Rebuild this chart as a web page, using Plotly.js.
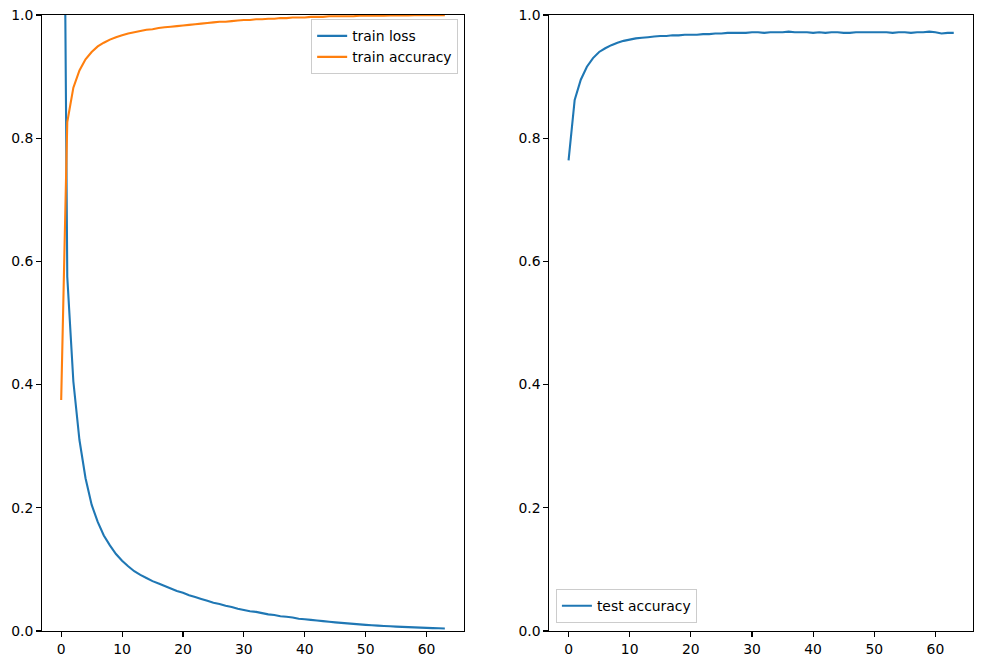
<!DOCTYPE html>
<html>
<head>
<meta charset="utf-8">
<script src="https://cdn.plot.ly/plotly-3.0.1.min.js"></script>
<style>html,body{margin:0;padding:0;background:#fff;}#chart{width:981px;height:664px;}</style>
</head>
<body>
<div id="chart"></div>
<script>
const epochs = Array.from({length: 64}, (_, i) => i);

const trainLoss = [1.9, 0.575, 0.405, 0.310, 0.248, 0.205, 0.177, 0.155, 0.139, 0.125,
  0.114, 0.105, 0.097, 0.091, 0.086, 0.081, 0.077, 0.073, 0.069, 0.065,
  0.062, 0.058, 0.055, 0.052, 0.049, 0.046, 0.044, 0.041, 0.039, 0.036,
  0.034, 0.032, 0.031, 0.029, 0.027, 0.026, 0.024, 0.023, 0.022, 0.020,
  0.019, 0.018, 0.017, 0.016, 0.015, 0.014, 0.0132, 0.0124, 0.0116, 0.0108,
  0.010, 0.0094, 0.0088, 0.0082, 0.0076, 0.0071, 0.0067, 0.0063, 0.0059, 0.0055,
  0.0051, 0.0047, 0.0044, 0.0041];

const trainAcc = [0.375, 0.826, 0.882, 0.910, 0.928, 0.940, 0.949, 0.955, 0.960, 0.964,
  0.967, 0.970, 0.972, 0.974, 0.976, 0.977, 0.979, 0.980, 0.981, 0.982,
  0.983, 0.984, 0.985, 0.986, 0.987, 0.988, 0.989, 0.989, 0.990, 0.991,
  0.992, 0.992, 0.993, 0.993, 0.994, 0.994, 0.995, 0.995, 0.996, 0.996,
  0.996, 0.997, 0.997, 0.997, 0.998, 0.998, 0.998, 0.998, 0.998, 0.999,
  0.999, 0.999, 0.999, 0.999, 0.9992, 0.9993, 0.9994, 0.9994, 0.9995, 0.9995,
  0.9996, 0.9996, 0.9997, 0.9997];

const testAcc = [0.764, 0.862, 0.895, 0.916, 0.930, 0.940, 0.946, 0.951, 0.955, 0.958,
  0.960, 0.962, 0.963, 0.964, 0.965, 0.966, 0.966, 0.967, 0.967, 0.968,
  0.968, 0.968, 0.969, 0.969, 0.970, 0.970, 0.971, 0.971, 0.971, 0.971,
  0.972, 0.972, 0.971, 0.972, 0.972, 0.972, 0.973, 0.972, 0.972, 0.972,
  0.971, 0.972, 0.971, 0.972, 0.972, 0.971, 0.971, 0.972, 0.972, 0.972,
  0.972, 0.972, 0.972, 0.971, 0.972, 0.972, 0.971, 0.972, 0.972, 0.973,
  0.972, 0.970, 0.971, 0.971];

const xTicks = [0, 10, 20, 30, 40, 50, 60];
const yTicks = [0.0, 0.2, 0.4, 0.6, 0.8, 1.0];

const FONT = {family: 'DejaVu Sans', size: 13.9, color: '#000'};
const BLUE = '#1f77b4', ORANGE = '#ff7f0e';

const traces = [
  {x: epochs, y: trainLoss, type: 'scatter', mode: 'lines', name: 'train loss',
   line: {color: BLUE, width: 2.1, simplify: false}, xaxis: 'x', yaxis: 'y', legend: 'legend'},
  {x: epochs, y: trainAcc, type: 'scatter', mode: 'lines', name: 'train accuracy',
   line: {color: ORANGE, width: 2.1, simplify: false}, xaxis: 'x', yaxis: 'y', legend: 'legend'},
  {x: epochs, y: testAcc, type: 'scatter', mode: 'lines', name: 'test accuracy',
   line: {color: BLUE, width: 2.1, simplify: false}, xaxis: 'x2', yaxis: 'y2', legend: 'legend2'}
];

function xax(domain, anchor) {
  return {domain: domain, anchor: anchor, range: [-3.15, 66.15], tickvals: xTicks,
    ticktext: xTicks.map(String), showgrid: false, zeroline: false, showline: true, mirror: true,
    linecolor: '#000', linewidth: 1.1, ticks: 'outside', ticklen: 4.9, tickwidth: 1.1,
    tickcolor: '#000', tickfont: FONT};
}
function yax(anchor) {
  return {anchor: anchor, range: [0, 1], tickvals: yTicks, ticktext: yTicks.map(v => v.toFixed(1)),
    showgrid: false, zeroline: false, showline: true, mirror: true,
    linecolor: '#000', linewidth: 1.1, ticks: 'outside', ticklen: 4.9, tickwidth: 1.1,
    tickcolor: '#000', tickfont: FONT};
}

const legendStyle = {bgcolor: 'rgba(255,255,255,0.8)', bordercolor: '#cccccc', borderwidth: 1,
  font: FONT, tracegroupgap: 0, itemwidth: 30};

const layout = {
  width: 981, height: 664,
  margin: {l: 42, r: 8, t: 15, b: 33},
  paper_bgcolor: '#fff', plot_bgcolor: '#fff',
  showlegend: true,
  font: FONT,
  xaxis: xax([0, 0.4533], 'y'),
  yaxis: yax('x'),
  xaxis2: xax([0.5449, 1], 'y2'),
  yaxis2: yax('x2'),
  legend: Object.assign({x: 0.447, y: 0.993, xanchor: 'right', yanchor: 'top'}, legendStyle),
  legend2: Object.assign({x: 0.552, y: 0.0127, xanchor: 'left', yanchor: 'bottom'}, legendStyle)
};

Plotly.newPlot('chart', traces, layout, {displayModeBar: false, staticPlot: true});
</script>
</body>
</html>
